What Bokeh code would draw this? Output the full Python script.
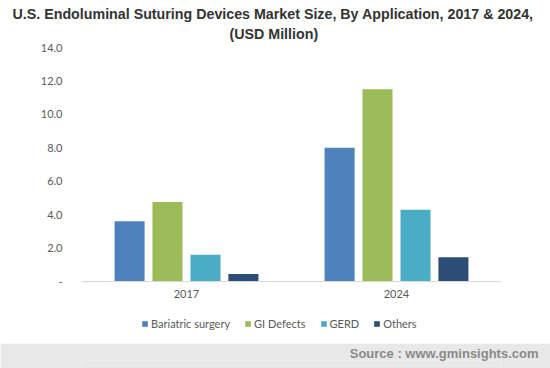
from bokeh.plotting import figure
from bokeh.models import Legend, LegendItem, FixedTicker, ColumnDataSource, Range1d, Title
from bokeh.transform import dodge
from bokeh.layouts import column
from bokeh.embed import file_html
from bokeh.resources import INLINE

years = ["2017", "2024"]
series = ["Bariatric surgery", "GI Defects", "GERD", "Others"]
bariatric = [3.6, 8.0]
gi_defects = [4.75, 11.5]
gerd = [1.6, 4.3]
others = [0.45, 1.45]
colors = ["#4f81bd", "#9bbb59", "#4bacc6", "#2c4d75"]
y_ticks = [0, 2, 4, 6, 8, 10, 12, 14]
y_tick_labels = ["-", "2.0", "4.0", "6.0", "8.0", "10.0", "12.0", "14.0"]
title_lines = ["U.S. Endoluminal Suturing Devices Market Size, By Application, 2017 & 2024,", "(USD Million)"]
source_text = "Source : www.gminsights.com"

src = ColumnDataSource(dict(year=years, b=bariatric, g=gi_defects, e=gerd, o=others))
cols = ["b", "g", "e", "o"]
offsets = [-0.271, -0.0905, 0.0905, 0.271]

W = 550
BL, BR = 81, 49
p = figure(x_range=years, y_range=Range1d(0, 14), width=W, height=303,
           output_backend="svg", toolbar_location=None,
           min_border_left=BL, min_border_right=BR, min_border_top=47, min_border_bottom=22)
p.outline_line_color = None
p.xgrid.grid_line_color = None
p.ygrid.grid_line_color = None
p.x_range.range_padding = 0

for c, off, col in zip(cols, offsets, colors):
    p.vbar(x=dodge("year", off, range=p.x_range), top=c, width=0.143, source=src,
           fill_color=col, line_color=None)

p.yaxis.ticker = FixedTicker(ticks=y_ticks)
p.yaxis.major_label_overrides = {t: l for t, l in zip(y_ticks, y_tick_labels)}
p.yaxis.axis_line_color = None
p.yaxis.major_tick_line_color = None
p.yaxis.minor_tick_line_color = None
p.yaxis.major_label_standoff = 13
p.yaxis.major_label_text_font = "Lato"
p.yaxis.major_label_text_font_size = "11px"
p.yaxis.major_label_text_color = "#595959"

p.xaxis.axis_line_color = "#d9d9d9"
p.xaxis.major_tick_line_color = None
p.xaxis.minor_tick_line_color = None
p.xaxis.major_label_standoff = 2
p.xaxis.major_label_text_font = "Lato"
p.xaxis.major_label_text_font_size = "11px"
p.xaxis.major_label_text_color = "#595959"

p.add_layout(Title(text=title_lines[1], align="left", offset=148, standoff=8, vertical_align="top",
                   text_font="Liberation Sans", text_font_style="bold", text_font_size="14.25px",
                   text_color="#333333"), "above")
p.add_layout(Title(text=title_lines[0], align="left", offset=-69, standoff=0,
                   text_font="Liberation Sans", text_font_style="bold", text_font_size="14.25px",
                   text_color="#333333"), "above")

# legend strip
lg = figure(x_range=years, y_range=Range1d(100, 101), width=W, height=40,
            output_backend="svg", toolbar_location=None, x_axis_type=None, y_axis_type=None,
            min_border_left=BL, min_border_right=BR, min_border_top=0, min_border_bottom=0)
lg.outline_line_color = None
lg.grid.grid_line_color = None
rs = []
for c, off, col in zip(cols, offsets, colors):
    rs.append(lg.vbar(x=dodge("year", off, range=lg.x_range), top=c, width=0.143, source=src,
                      fill_color=col, line_color=None))
legend = Legend(items=[LegendItem(label=s, renderers=[r]) for s, r in zip(series, rs)],
                orientation="horizontal", location=(60, 13),
                glyph_width=7, glyph_height=7, label_standoff=3, spacing=14,
                padding=0, margin=0, border_line_color=None, background_fill_alpha=0,
                label_text_font="Lato", label_text_font_size="11px", label_text_color="#595959",
                label_height=12)
lg.add_layout(legend, "center")

# footer band
f = figure(width=W, height=25, x_range=Range1d(0, 1), y_range=Range1d(0, 1),
           output_backend="svg", toolbar_location=None, x_axis_type=None, y_axis_type=None,
           min_border_left=BL, min_border_right=BR, min_border_top=0, min_border_bottom=0)
f.outline_line_color = None
f.grid.grid_line_color = None
f.background_fill_color = "#e8e8e8"
f.border_fill_color = "#e8e8e8"
f.add_layout(Title(text=source_text, align="right", offset=-37, standoff=0,
                   text_font="Liberation Sans", text_font_style="bold", text_font_size="13px",
                   text_color="#8a8a8a"), "above")

layout = column(p, lg, f, spacing=0)
open("out.html", "w").write(file_html(layout, INLINE))
